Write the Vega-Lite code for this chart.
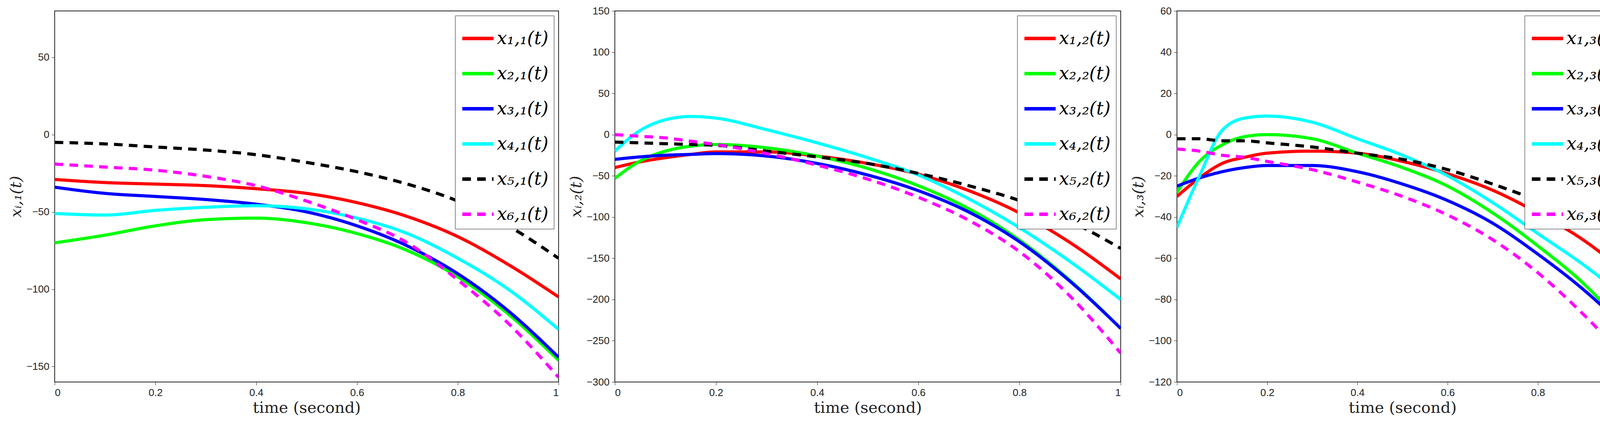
{
  "$schema": "https://vega.github.io/schema/vega-lite/v6.json",
  "background": "white",
  "padding": {"left": 20, "top": 14, "right": 10, "bottom": 0},
  "spacing": 22,
  "config": {
    "view": {"stroke": "#222", "strokeWidth": 2},
    "axis": {"grid": false, "domainColor": "#222", "tickColor": "#222", "labelFont": "Liberation Sans", "labelFontSize": 26, "labelColor": "#222", "titleFont": "DejaVu Serif", "titleFontWeight": "normal", "titleColor": "#222", "tickSize": 8, "labelPadding": 6},
    "axisX": {"titleFontSize": 40, "titlePadding": 6},
    "axisY": {"titleFontSize": 40, "titleFontStyle": "italic", "titlePadding": 6},
    "legend": {"labelFont": "DejaVu Serif", "labelFontStyle": "italic", "labelFontSize": 46, "labelColor": "#000", "symbolType": "stroke", "symbolSize": 6400, "symbolStrokeWidth": 9, "strokeColor": "#222", "fillColor": "white", "padding": 14, "rowPadding": 22, "title": null, "orient": "top-right", "offset": 12}
  },
  "datasets": {
    "d": [
      {"p":1,"t":0,"s1":-29,"s2":-70,"s3":-34,"s4":-51,"s5":-5,"s6":-19},
      {"p":1,"t":0.1,"s1":-31,"s2":-65,"s3":-38,"s4":-52,"s5":-6,"s6":-21},
      {"p":1,"t":0.2,"s1":-32,"s2":-59,"s3":-40,"s4":-49,"s5":-8,"s6":-23},
      {"p":1,"t":0.3,"s1":-33,"s2":-55,"s3":-42,"s4":-47,"s5":-10,"s6":-27},
      {"p":1,"t":0.4,"s1":-35,"s2":-54,"s3":-45,"s4":-46,"s5":-13,"s6":-33},
      {"p":1,"t":0.5,"s1":-38,"s2":-57,"s3":-50,"s4":-48,"s5":-18,"s6":-43},
      {"p":1,"t":0.6,"s1":-44,"s2":-64,"s3":-59,"s4":-54,"s5":-24,"s6":-55},
      {"p":1,"t":0.7,"s1":-53,"s2":-75,"s3":-72,"s4":-64,"s5":-32,"s6":-70},
      {"p":1,"t":0.8,"s1":-66,"s2":-92,"s3":-90,"s4":-80,"s5":-43,"s6":-94},
      {"p":1,"t":0.9,"s1":-84,"s2":-116,"s3":-114,"s4":-100,"s5":-59,"s6":-122},
      {"p":1,"t":1,"s1":-105,"s2":-146,"s3":-144,"s4":-126,"s5":-80,"s6":-157},
      {"p":2,"t":0,"s1":-40,"s2":-53,"s3":-30,"s4":-20,"s5":-9,"s6":0},
      {"p":2,"t":0.05,"s1":-33,"s2":-32,"s3":-27,"s4":5,"s5":-10,"s6":-2},
      {"p":2,"t":0.1,"s1":-28,"s2":-20,"s3":-25,"s4":18,"s5":-11,"s6":-4},
      {"p":2,"t":0.15,"s1":-24,"s2":-14,"s3":-24,"s4":22,"s5":-12,"s6":-8},
      {"p":2,"t":0.2,"s1":-21,"s2":-12,"s3":-23,"s4":20,"s5":-13,"s6":-12},
      {"p":2,"t":0.3,"s1":-21,"s2":-16,"s3":-26,"s4":6,"s5":-20,"s6":-23},
      {"p":2,"t":0.4,"s1":-26,"s2":-26,"s3":-35,"s4":-10,"s5":-27,"s6":-37},
      {"p":2,"t":0.5,"s1":-35,"s2":-41,"s3":-49,"s4":-28,"s5":-35,"s6":-54},
      {"p":2,"t":0.6,"s1":-48,"s2":-62,"s3":-68,"s4":-49,"s5":-47,"s6":-76},
      {"p":2,"t":0.7,"s1":-68,"s2":-90,"s3":-94,"s4":-78,"s5":-62,"s6":-104},
      {"p":2,"t":0.8,"s1":-95,"s2":-128,"s3":-130,"s4":-113,"s5":-80,"s6":-142},
      {"p":2,"t":0.9,"s1":-131,"s2":-177,"s3":-178,"s4":-154,"s5":-105,"s6":-196},
      {"p":2,"t":1,"s1":-175,"s2":-235,"s3":-235,"s4":-200,"s5":-138,"s6":-265},
      {"p":3,"t":0,"s1":-30,"s2":-28,"s3":-25,"s4":-45,"s5":-2,"s6":-7},
      {"p":3,"t":0.05,"s1":-21,"s2":-13,"s3":-21,"s4":-20,"s5":-2,"s6":-8},
      {"p":3,"t":0.1,"s1":-14,"s2":-5,"s3":-18,"s4":2,"s5":-3,"s6":-10},
      {"p":3,"t":0.15,"s1":-11,"s2":-1,"s3":-16,"s4":8,"s5":-3,"s6":-11},
      {"p":3,"t":0.2,"s1":-9,"s2":0,"s3":-15,"s4":9,"s5":-4,"s6":-13},
      {"p":3,"t":0.3,"s1":-8,"s2":-2,"s3":-15,"s4":6,"s5":-6,"s6":-17},
      {"p":3,"t":0.4,"s1":-9,"s2":-9,"s3":-18,"s4":-2,"s5":-9,"s6":-23},
      {"p":3,"t":0.5,"s1":-13,"s2":-16,"s3":-24,"s4":-10,"s5":-12,"s6":-30},
      {"p":3,"t":0.6,"s1":-19,"s2":-25,"s3":-32,"s4":-20,"s5":-17,"s6":-39},
      {"p":3,"t":0.7,"s1":-27,"s2":-38,"s3":-43,"s4":-33,"s5":-24,"s6":-51},
      {"p":3,"t":0.8,"s1":-38,"s2":-54,"s3":-58,"s4":-48,"s5":-32,"s6":-67},
      {"p":3,"t":0.9,"s1":-51,"s2":-72,"s3":-75,"s4":-63,"s5":-41,"s6":-87},
      {"p":3,"t":1,"s1":-68,"s2":-95,"s3":-95,"s4":-80,"s5":-52,"s6":-110}
    ]
  },
  "hconcat": [
    {
      "width": 1290, "height": 950,
      "data": {"name": "d"},
      "transform": [{"filter": "datum.p == 1"}, {"fold": ["s1","s2","s3","s4","s5","s6"], "as": ["i","v"]}],
      "mark": {"type": "line", "strokeWidth": 8, "interpolate": "monotone", "clip": true},
      "encoding": {
        "x": {"field": "t", "type": "quantitative", "title": "time (second)", "scale": {"domain": [0,1]}, "axis": {"values": [0,0.2,0.4,0.6,0.8,1], "format": "~g"}},
        "y": {"field": "v", "type": "quantitative", "title": "xᵢ,₁(t)", "scale": {"domain": [-160,80]}, "axis": {"values": [-150,-100,-50,0,50]}},
        "color": {"field": "i", "type": "nominal", "scale": {"domain": ["s1","s2","s3","s4","s5","s6"], "range": ["#ff0000","#00ff00","#0000ff","#00ffff","#000000","#ff00ff"]}, "legend": {"labelExpr": "'x' + ['₁','₂','₃','₄','₅','₆'][toNumber(slice(datum.value,1))-1] + ',₁(t)'"}},
        "strokeDash": {"field": "i", "type": "nominal", "scale": {"domain": ["s1","s2","s3","s4","s5","s6"], "range": [[1,0],[1,0],[1,0],[1,0],[22,16],[22,16]]}, "legend": {"labelExpr": "'x' + ['₁','₂','₃','₄','₅','₆'][toNumber(slice(datum.value,1))-1] + ',₁(t)'"}}
      }
    },
    {
      "width": 1295, "height": 950,
      "data": {"name": "d"},
      "transform": [{"filter": "datum.p == 2"}, {"fold": ["s1","s2","s3","s4","s5","s6"], "as": ["i","v"]}],
      "mark": {"type": "line", "strokeWidth": 8, "interpolate": "monotone", "clip": true},
      "encoding": {
        "x": {"field": "t", "type": "quantitative", "title": "time (second)", "scale": {"domain": [0,1]}, "axis": {"values": [0,0.2,0.4,0.6,0.8,1], "format": "~g"}},
        "y": {"field": "v", "type": "quantitative", "title": "xᵢ,₂(t)", "scale": {"domain": [-300,150]}, "axis": {"values": [-300,-250,-200,-150,-100,-50,0,50,100,150]}},
        "color": {"field": "i", "type": "nominal", "scale": {"domain": ["s1","s2","s3","s4","s5","s6"], "range": ["#ff0000","#00ff00","#0000ff","#00ffff","#000000","#ff00ff"]}, "legend": {"labelExpr": "'x' + ['₁','₂','₃','₄','₅','₆'][toNumber(slice(datum.value,1))-1] + ',₂(t)'"}},
        "strokeDash": {"field": "i", "type": "nominal", "scale": {"domain": ["s1","s2","s3","s4","s5","s6"], "range": [[1,0],[1,0],[1,0],[1,0],[22,16],[22,16]]}, "legend": {"labelExpr": "'x' + ['₁','₂','₃','₄','₅','₆'][toNumber(slice(datum.value,1))-1] + ',₂(t)'"}}
      }
    },
    {
      "width": 1155, "height": 950,
      "data": {"name": "d"},
      "transform": [{"filter": "datum.p == 3"}, {"fold": ["s1","s2","s3","s4","s5","s6"], "as": ["i","v"]}],
      "mark": {"type": "line", "strokeWidth": 8, "interpolate": "monotone", "clip": true},
      "encoding": {
        "x": {"field": "t", "type": "quantitative", "title": "time (second)", "scale": {"domain": [0,1]}, "axis": {"values": [0,0.2,0.4,0.6,0.8,1], "format": "~g"}},
        "y": {"field": "v", "type": "quantitative", "title": "xᵢ,₃(t)", "scale": {"domain": [-120,60]}, "axis": {"values": [-120,-100,-80,-60,-40,-20,0,20,40,60]}},
        "color": {"field": "i", "type": "nominal", "scale": {"domain": ["s1","s2","s3","s4","s5","s6"], "range": ["#ff0000","#00ff00","#0000ff","#00ffff","#000000","#ff00ff"]}, "legend": {"labelExpr": "'x' + ['₁','₂','₃','₄','₅','₆'][toNumber(slice(datum.value,1))-1] + ',₃(t)'"}},
        "strokeDash": {"field": "i", "type": "nominal", "scale": {"domain": ["s1","s2","s3","s4","s5","s6"], "range": [[1,0],[1,0],[1,0],[1,0],[22,16],[22,16]]}, "legend": {"labelExpr": "'x' + ['₁','₂','₃','₄','₅','₆'][toNumber(slice(datum.value,1))-1] + ',₃(t)'"}}
      }
    }
  ],
  "resolve": {"scale": {"color": "independent", "strokeDash": "independent", "y": "independent"}}
}
